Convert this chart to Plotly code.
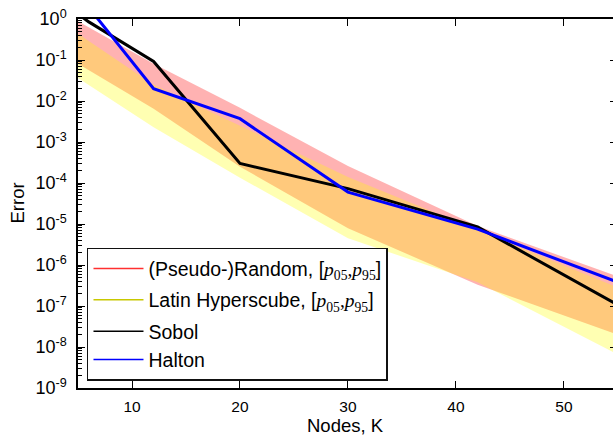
import plotly.graph_objects as go

# Number of quadrature nodes K = n(n+1)
nodes = [2, 6, 12, 20, 30, 42, 56]

# (Pseudo-)Random sampling: 5th / 95th percentile of the error
random_p05 = [0.24, 0.056, 6.5e-3, 2.5e-4, 7.9e-6, 3.3e-7, 1.6e-8]
random_p95 = [2.45, 0.63, 0.081, 6.8e-3, 2.6e-4, 8.9e-6, 4.2e-7]

# Latin Hypercube sampling: 5th / 95th percentile of the error
lhs_p05 = [0.12, 0.025, 2.3e-3, 1.35e-4, 4.5e-6, 3.8e-7, 4.8e-9]
lhs_p95 = [1.48, 0.29, 0.025, 2.5e-3, 1.4e-4, 7.1e-6, 2.2e-7]

# Low-discrepancy sequences
sobol = [5.0, 0.85, 0.092, 3.0e-4, 7.3e-5, 8.5e-6, 7.5e-8]
halton = [8.0, 1.9, 0.020, 3.7e-3, 6.0e-5, 7.5e-6, 3.0e-7]

x_ticks = [10, 20, 30, 40, 50]
y_exponents = list(range(-9, 1))

FONT = "Liberation Sans, Arial, sans-serif"
MATH = "font-family:'Liberation Serif', 'DejaVu Serif', serif"
band_label = ("[<span style=\"" + MATH + "\"><i>p</i><sub>05</sub>,"
              "<i>p</i><sub>95</sub></span>]")

fig = go.Figure()

# Percentile bands (red first, yellow on top so the overlap turns orange)
for lo, hi, fill in [(random_p05, random_p95, "rgba(255,0,0,0.3)"),
                     (lhs_p05, lhs_p95, "rgba(255,255,0,0.3)")]:
    fig.add_trace(go.Scatter(x=nodes, y=lo, mode="lines", line=dict(width=0),
                             showlegend=False, hoverinfo="skip"))
    fig.add_trace(go.Scatter(x=nodes, y=hi, mode="lines", line=dict(width=0),
                             fill="tonexty", fillcolor=fill,
                             showlegend=False, hoverinfo="skip"))

# Error curves of the deterministic sequences
fig.add_trace(go.Scatter(x=nodes, y=sobol, mode="lines",
                         line=dict(color="black", width=3), showlegend=False))
fig.add_trace(go.Scatter(x=nodes, y=halton, mode="lines",
                         line=dict(color="#0000ff", width=3), showlegend=False))

# Legend entries (thin line samples); the two sequences share a group
legend_items = [
    ("(Pseudo-)Random, " + band_label, "#ff3030", "g0"),
    ("Latin Hyperscube, " + band_label, "#c8c800", "g1"),
    ("Sobol", "#000000", "g2"),
    ("Halton", "#0000ff", "g2"),
]
for name, color, group in legend_items:
    fig.add_trace(go.Scatter(x=[None], y=[None], mode="lines", name=name,
                             legendgroup=group,
                             line=dict(color=color, width=1.5)))

# Invisible trace so the right-hand tick axis is drawn
fig.add_trace(go.Scatter(x=[None], y=[None], yaxis="y2", showlegend=False,
                         hoverinfo="skip"))

major_y = [10.0 ** k for k in y_exponents]
minor_y = [m * 10.0 ** k for k in y_exponents[:-1] for m in range(2, 10)]

fig.update_layout(
    width=613, height=436,
    margin=dict(l=78, r=0, t=19, b=48),
    paper_bgcolor="white", plot_bgcolor="white",
    font=dict(family=FONT, color="black"),
    xaxis=dict(
        range=[5, 54.54], tickvals=x_ticks, ticktext=[str(v) for v in x_ticks],
        ticks="inside", ticklen=7, tickwidth=1.2, tickcolor="black",
        showline=True, linecolor="black", linewidth=1.5, mirror="ticks",
        showgrid=False, zeroline=False, automargin=False,
        tickfont=dict(size=15.5), ticklabelstandoff=4,
    ),
    yaxis=dict(
        type="log", range=[-9, 0],
        tickvals=major_y, ticktext=[f"10<sup>{k}</sup>" for k in y_exponents],
        ticks="inside", ticklen=7, tickwidth=1.2, tickcolor="black",
        minor=dict(tickmode="array", tickvals=minor_y, ticks="inside",
                   ticklen=4, tickwidth=1, tickcolor="black", showgrid=False),
        showline=True, linecolor="black", linewidth=1.5,
        showgrid=False, zeroline=False, automargin=False,
        tickfont=dict(size=18), ticklabelstandoff=6,
    ),
    yaxis2=dict(
        type="log", range=[-9, 0], overlaying="y", side="right",
        tickvals=major_y, showticklabels=False,
        ticks="inside", ticklen=3, tickwidth=1.2, tickcolor="black",
        showline=False, showgrid=False, zeroline=False, automargin=False,
    ),
    legend=dict(
        x=0.0168, y=0.38, xanchor="left", yanchor="top",
        bgcolor="white", bordercolor="#111111", borderwidth=1.5,
        font=dict(size=19.5), tracegroupgap=3, itemwidth=50,
        traceorder="grouped",
    ),
    annotations=[
        dict(text="Nodes, K", xref="paper", yref="paper", x=0.5, y=-0.102,
             xanchor="center", yanchor="middle", showarrow=False,
             font=dict(size=18.5)),
        dict(text="Error", xref="paper", yref="paper", x=-0.114, y=0.5,
             xanchor="center", yanchor="middle", showarrow=False,
             textangle=-90, font=dict(size=18.5)),
    ],
)

fig.write_html("out.html")
